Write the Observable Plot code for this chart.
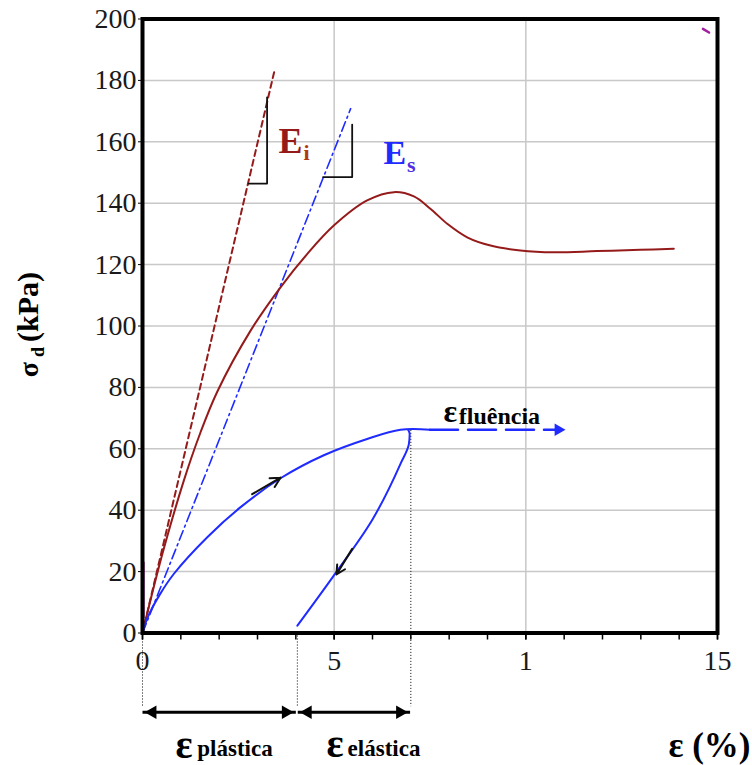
<!DOCTYPE html>
<html><head><meta charset="utf-8">
<script src="https://cdn.jsdelivr.net/npm/d3@7"></script>
<script src="https://cdn.jsdelivr.net/npm/@observablehq/plot@0.6"></script>
<style>body{margin:0;background:#fff} svg{display:block} #chart svg{font-family:"Liberation Serif",serif}</style>
</head><body><div id="chart"></div>
<script>
// ---- data ----
const yTicks = [0,20,40,60,80,100,120,140,160,180,200];
const xTicks = [0,5,10,15];
const xTickLabels = ["0","5","1","15"];
const xMinorTicks = [0,1,2,3,4,5,6,7,8,9,10,11,12,13,14,15];
const xGrid = [5,10];

// red curve (monotonic loading test)
const redX = [0,0.25,0.55,1.08,1.5,1.95,2.82,3.6,4.3,4.99,5.86,6.56,7.08,7.51,7.95,8.47,9.08,9.86,10.73,11.86,12.99,13.86];
const redY = [0,12.8,27.2,49.7,64.9,78.6,98.5,112.6,123.5,132.7,140.9,143.6,142.2,138.2,133.3,128.9,126.2,124.6,124,124.4,124.8,125.2];
// blue loading branch
const loadX = [0,0.15,0.45,0.82,1.69,2.56,3.6,4.73,5.86,6.73,7.5];
const loadY = [0,5.5,12.5,19.3,31.2,41,50.4,57.9,63.2,66.2,66.2];
// blue unloading branch
const unloadX = [4.04,4.99,6.0,6.73,6.95,6.97,6.93];
const unloadY = [2.4,18.7,37.0,55.1,61.6,64.9,66.2];
// creep (fluência) dashed
const creepX = [7.5,10.9];
const creepY = [66.2,66.2];
const creepTipX = 11.08;
// tangent moduli
const eiX = [0,3.44], eiY = [0,183];
const esX = [0,5.43], esY = [0,170.8];
const eiTriX = [2.77,3.25,3.25], eiTriY = [146.4,146.4,174.5];
const esTriX = [4.71,5.47,5.47], esTriY = [148.5,148.5,165.6];
// direction arrows on the blue curve
const loadArrow = {x1:2.86, y1:45.2, x2:3.6, y2:50.6};
const unloadArrow = {x1:5.47, y1:27.4, x2:5.06, y2:19.1};
// dotted guides and strain arrows
const guideX = [0,4.04,7.0];
const guideTop = [0,0,66];
const guideBottom = -24;
const strainRowY = -25.8;
const plasticSpan = [0,4.0];
const elasticSpan = [4.05,6.98];

const xs = (X, Y) => X.map((x, i) => ({x, y: Y[i]}));
const red = "#951b1b", blue = "#1f2bff";
const serif = "Liberation Serif";

const headsLeft = [{x: plasticSpan[0], y: strainRowY}, {x: elasticSpan[0], y: strainRowY}];
const headsRight = [{x: plasticSpan[1], y: strainRowY}, {x: elasticSpan[1], y: strainRowY}];

const txt = (s, x, y, o) => Plot.text([s], {x: [x], y: [y], text: d => d, textAnchor: "start", lineAnchor: "middle", fontFamily: serif, fontWeight: "bold", ...o});

const plot = Plot.plot({
  width: 752, height: 765,
  marginLeft: 142, marginRight: 35, marginTop: 18.5, marginBottom: 132.5,
  x: {domain: [0,15]},
  y: {domain: [0,200]},
  style: {fontFamily: serif, background: "white", color: "black", overflow: "visible"},
  marks: [
    Plot.gridY(yTicks, {stroke: "#c8c8c8", strokeOpacity: 1, strokeWidth: 1.5}),
    Plot.gridX(xGrid, {stroke: "#c8c8c8", strokeOpacity: 1, strokeWidth: 1.5}),
    Plot.axisY(yTicks, {tickSize: 4, tickPadding: 2, fontSize: 28, fontFamily: serif, label: null, fill: "#1a1a1a"}),
    Plot.axisX(xMinorTicks, {tickSize: 7, tickFormat: () => "", label: null, strokeWidth: 1.5}),
    Plot.axisX(xTicks, {tickSize: 7, tickPadding: 10, fontSize: 28, fontFamily: serif, label: null, strokeWidth: 1.5,
      tickFormat: d => xTickLabels[xTicks.indexOf(d)], fill: "#1a1a1a"}),
    // dotted guides
    Plot.ruleX(guideX.map((x, i) => ({x, t: guideTop[i]})), {x: "x", y1: "t", y2: guideBottom, stroke: "black", strokeWidth: 1, strokeDasharray: "1,2"}),
    // tangents
    Plot.line(xs(eiX, eiY), {x: "x", y: "y", stroke: red, strokeWidth: 2, strokeDasharray: "6,4"}),
    Plot.line(xs(esX, esY), {x: "x", y: "y", stroke: blue, strokeWidth: 1.6, strokeDasharray: "10,4,2,4"}),
    Plot.line(xs(eiTriX, eiTriY), {x: "x", y: "y", stroke: "#111", strokeWidth: 1.8}),
    Plot.line(xs(esTriX, esTriY), {x: "x", y: "y", stroke: "#111", strokeWidth: 1.8}),
    // curves
    Plot.line(xs(redX, redY), {x: "x", y: "y", stroke: red, strokeWidth: 2, curve: "catmull-rom"}),
    Plot.line(xs(loadX, loadY), {x: "x", y: "y", stroke: blue, strokeWidth: 2, curve: "catmull-rom"}),
    Plot.line(xs(unloadX, unloadY), {x: "x", y: "y", stroke: blue, strokeWidth: 2, curve: "monotone-y"}),
    Plot.line(xs(creepX, creepY), {x: "x", y: "y", stroke: blue, strokeWidth: 2.5, strokeDasharray: "28,10"}),
    Plot.dot([{x: creepTipX, y: creepY[1]}], {x: "x", y: "y", symbol: "triangle2", r: 6, rotate: 90, dx: -9, fill: blue, stroke: "none"}),
    // small magenta artefacts
    Plot.line(xs([14.62,14.78],[196.8,195.6]), {x: "x", y: "y", stroke: "#a020a0", strokeWidth: 2.5}),
    Plot.line(xs([0.03,0.03],[5,23]), {x: "x", y: "y", stroke: "#8a1a8a", strokeWidth: 2}),
    // direction arrows
    Plot.arrow([loadArrow, unloadArrow], {x1: "x1", y1: "y1", x2: "x2", y2: "y2", stroke: "#111", strokeWidth: 2, headLength: 12, headAngle: 55}),
    // frame
    Plot.frame({stroke: "black", strokeWidth: 4}),
    // strain double arrows
    Plot.link([{a: plasticSpan[0], b: plasticSpan[1]}, {a: elasticSpan[0], b: elasticSpan[1]}],
      {x1: "a", x2: "b", y1: strainRowY, y2: strainRowY, stroke: "black", strokeWidth: 3}),
    Plot.dot(headsLeft, {x: "x", y: "y", rotate: -90, dx: 10, symbol: "triangle2", r: 6.5, fill: "black", stroke: "none"}),
    Plot.dot(headsRight, {x: "x", y: "y", rotate: 90, dx: -10, symbol: "triangle2", r: 6.5, fill: "black", stroke: "none"}),
    // labels
    txt("E", 3.55, 160, {fontSize: 36, fill: red}),
    txt("i", 4.2, 156.5, {fontSize: 22, fill: "#b03a10"}),
    txt("E", 6.29, 156.4, {fontSize: 34, fill: blue}),
    txt("s", 6.9, 152.3, {fontSize: 22, fill: "#5030e0"}),
    txt("ε", 7.85, 72, {fontSize: 32}),
    txt("fluência", 8.25, 70.6, {fontSize: 24}),
    txt("ε", 0.86, -36.4, {fontSize: 40}),
    txt("plástica", 1.43, -37.8, {fontSize: 23}),
    txt("ε", 4.8, -36.2, {fontSize: 40}),
    txt("elástica", 5.35, -37.6, {fontSize: 23}),
    txt("ε (%)", 13.72, -36.6, {fontSize: 35}),
    txt("σ", -2.97, 85.8, {fontSize: 28, rotate: -90, textAnchor: "middle"}),
    txt("d", -2.72, 91.5, {fontSize: 18, rotate: -90, textAnchor: "middle"}),
    txt("(kPa)", -2.97, 106.2, {fontSize: 30, rotate: -90, textAnchor: "middle"})
  ]
});
document.getElementById("chart").append(plot);
</script>
</body></html>
